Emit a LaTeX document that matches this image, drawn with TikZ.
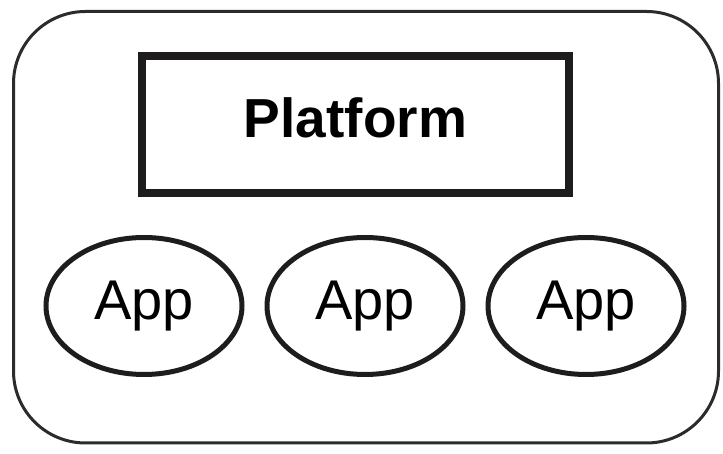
\documentclass[tikz,border=0pt]{standalone}
\usepackage{fontspec}
\setmainfont{Liberation Sans}
\usepackage{xcolor}
\usepackage{tikz}
\usetikzlibrary{positioning, shapes.geometric}
\definecolor{framegray}{HTML}{2B2B2B}
\definecolor{inkblack}{HTML}{1E1C1C}

\tikzset{
  platformbox/.style={draw=inkblack, line width=7.5pt, minimum width=427pt,
        minimum height=137pt, inner sep=0pt, text depth=14pt,
        font=\fontsize{55}{60}\selectfont\bfseries},
  appnode/.style={ellipse, draw=inkblack, line width=5pt, minimum width=196pt,
        minimum height=137pt, inner sep=0pt, font=\fontsize{56}{60}\selectfont}
}

\begin{document}
\begin{tikzpicture}[x=1pt, y=1pt]
  \useasboundingbox (0,0) rectangle (723,454);
  % outer frame
  \draw[framegray, line width=3pt, rounded corners=72pt]
    (13.5,11) rectangle (718.5,442.5);
  \node[platformbox] (platform) at (355.5,329.5) {Platform};
  % three apps under the platform
  \node[appnode] (app1) at (144,148) {App};
  \node[appnode, right=20pt of app1] (app2) {App};
  \node[appnode, right=20pt of app2] (app3) {App};
\end{tikzpicture}
\end{document}
